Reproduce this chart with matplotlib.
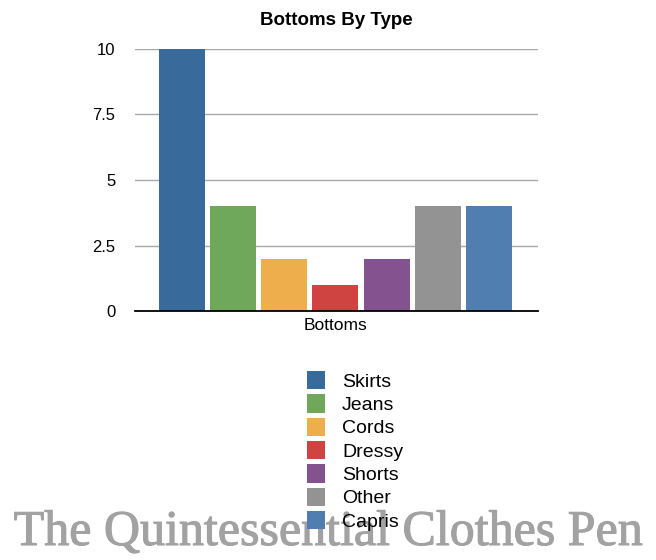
import matplotlib
matplotlib.use("Agg")
from matplotlib import pyplot as plt
import matplotlib.patheffects as pe

types = ["Skirts", "Jeans", "Cords", "Dressy", "Shorts", "Other", "Capris"]
counts = [10, 4, 2, 1, 2, 4, 4]
colors = ["#386a9c", "#6fa75b", "#edae4b", "#cf4340", "#84528f", "#939393", "#517eb0"]
category = "Bottoms"
y_ticks = [0, 2.5, 5, 7.5, 10]
y_labels = ["0", "2.5", "5", "7.5", "10"]

plt.rcParams["font.family"] = ["Liberation Sans", "DejaVu Sans"]

fig = plt.figure(figsize=(6.56, 5.6), dpi=100)
ax = fig.add_axes([135 / 656, 1 - 311 / 560, 403 / 656, 262 / 560])

for i, (name, val, col) in enumerate(zip(types, counts, colors)):
    ax.bar(i, val, width=0.9, color=col, label=name, zorder=3)

ax.set_ylim(0, 10)
ax.set_xlim(-0.92, 6.96)
ax.set_yticks(y_ticks)
ax.set_yticklabels(y_labels, fontsize=12)
ax.set_xticks([3])
ax.set_xticklabels([category], fontsize=12.5)
ax.tick_params(length=0, pad=14, axis="y")
ax.tick_params(length=0, pad=5, axis="x")
ax.grid(axis="y", color="#a8a8a8", linewidth=1, zorder=0)
for s in ["top", "right", "left"]:
    ax.spines[s].set_visible(False)
ax.spines["bottom"].set_color("black")
ax.spines["bottom"].set_linewidth(1.3)
ax.spines["bottom"].set_zorder(4)
ax.set_title("Bottoms By Type", fontsize=13.5, fontweight="bold", pad=17)

leg = ax.legend(loc="upper left", frameon=False, fontsize=14, handlelength=0.95,
                handleheight=1.08, handletextpad=0.85, labelspacing=0.18,
                borderaxespad=0, borderpad=0)
leg.set_bbox_to_anchor((307 / 656, 1 - 371 / 560), transform=fig.transFigure)

fig.text(0.5, 1 - 545 / 560, "The Quintessential Clothes Pen", ha="center", va="baseline",
         fontsize=36, color="#a2a2a2", family="Liberation Serif", zorder=-1,
         path_effects=[pe.withStroke(linewidth=0.8, foreground="#a2a2a2")])

fig.savefig("out.png", dpi=100)
